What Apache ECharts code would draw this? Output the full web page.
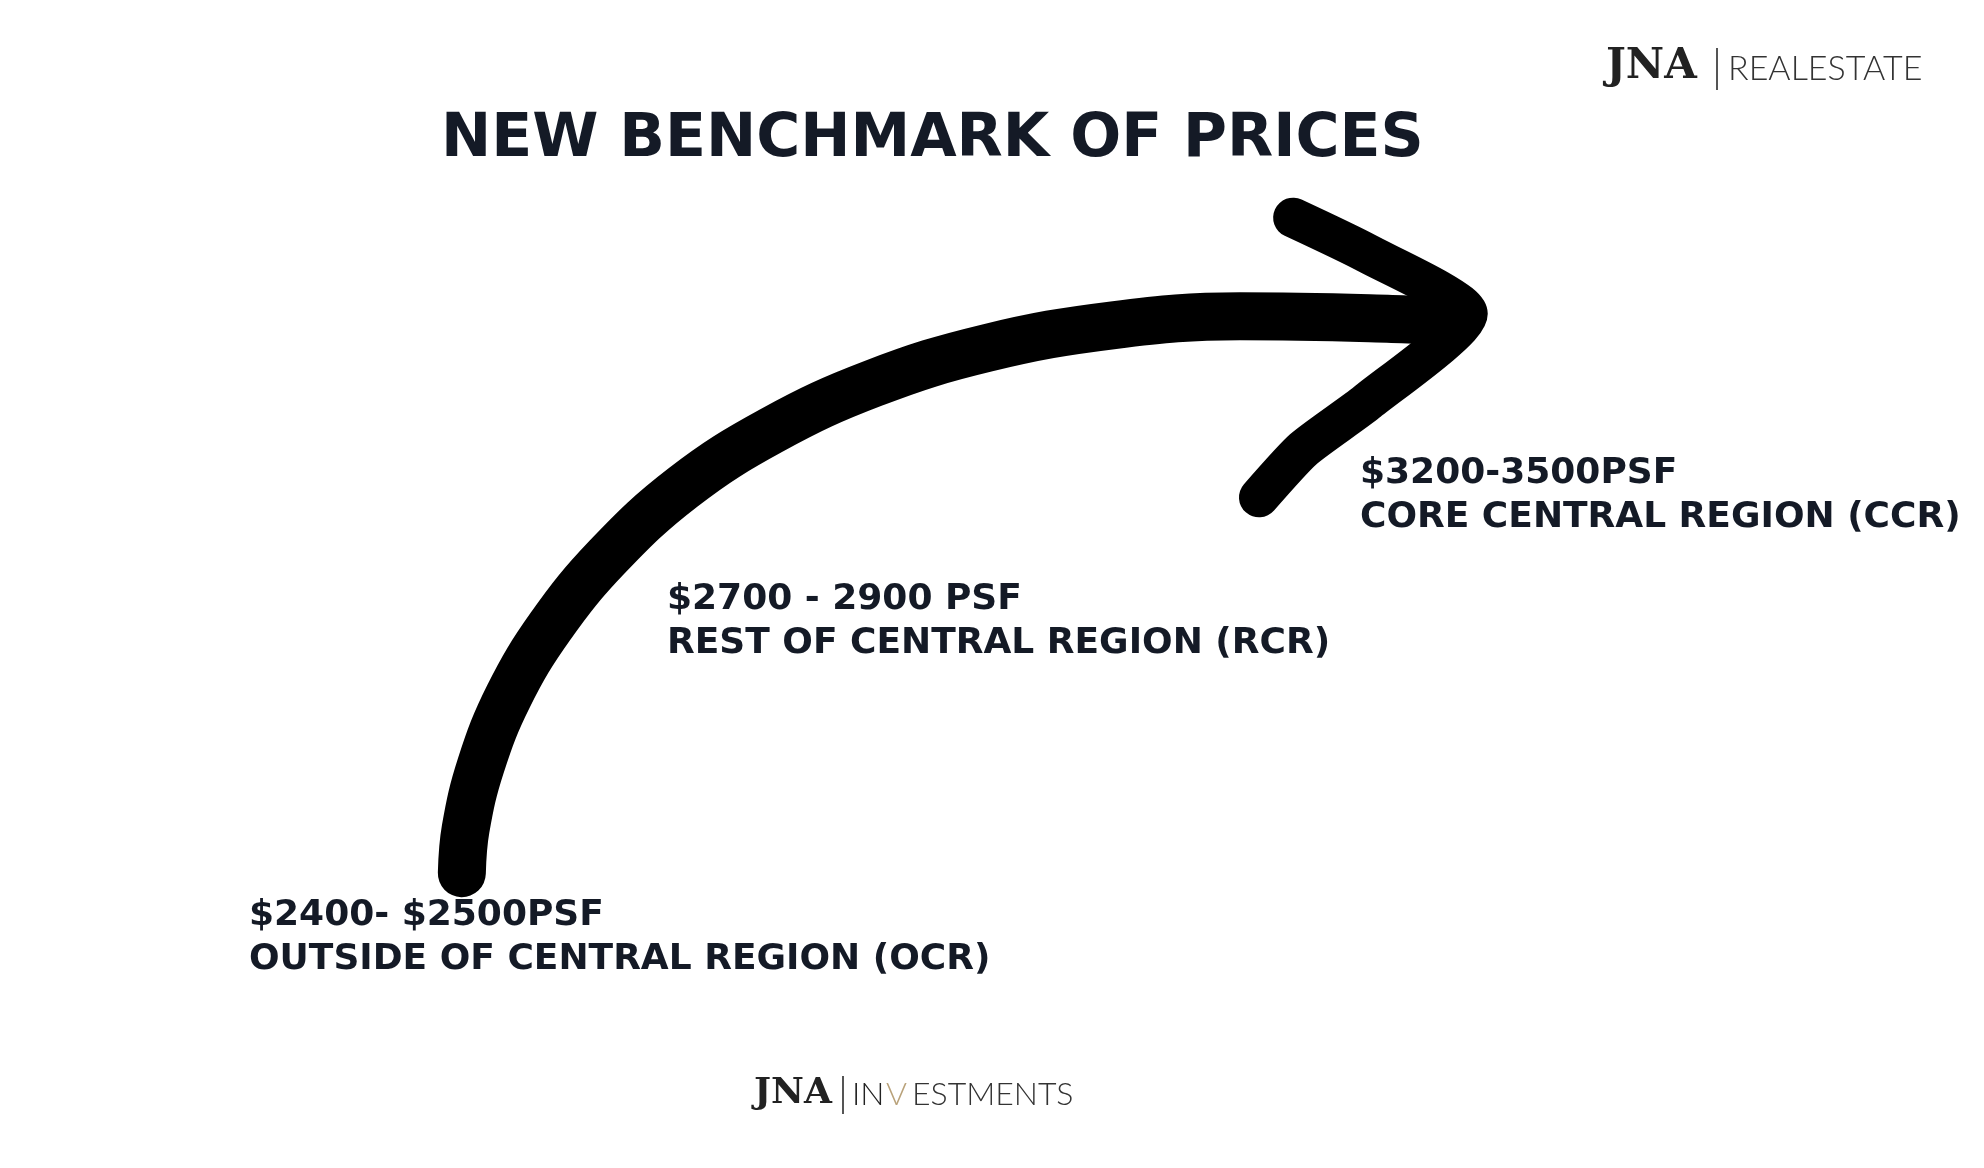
<!DOCTYPE html>
<html><head><meta charset="utf-8">
<script src="https://cdn.jsdelivr.net/npm/echarts@6/dist/echarts.min.js"></script>
<style>html,body{margin:0;background:#fff}#c{width:1984px;height:1168px}</style>
</head><body><div id="c"></div>
<script>
// arrow path in a 1568 x 923 layout space
const shaftPts = [[365,690],[368,655],[380,605],[402,550],[435,495],[480,440],[540,385],[610,340],[690,303],[780,275],[880,257],[980,250],[1100,252],[1140,254]];
const headPts = [[1022,172],[1080,200],[1160,248],[1080,318],[1030,355],[995,393]];
const regions = ['$3200-3500PSF|CORE CENTRAL REGION (CCR)', '$2700 - 2900 PSF|REST OF CENTRAL REGION (RCR)', '$2400- $2500PSF|OUTSIDE OF CENTRAL REGION (OCR)'];
const labelPos = [[1360,452],[667,578],[249,894]];
const title = 'NEW BENCHMARK OF PRICES';
const ink = '#141a26';

const chart = echarts.init(document.getElementById('c'));
const txt = (t, x, y, size) => ({type:'text', left:x, top:y,
  style:{text:t, fill:ink, font:'bold '+size+'px "DejaVu Sans"', lineHeight:44}});
const graphics = [
  {type:'text', left:441, top:110, style:{text:title, fill:ink, font:'bold 60px "DejaVu Sans"'}}
];
regions.forEach((r,i)=>{
  const [a,b] = r.split('|');
  graphics.push(txt(a+'\n'+b, labelPos[i][0], labelPos[i][1], 36));
});
// logos
graphics.push({type:'text', left:1606, top:46, style:{text:'JNA', fill:'#222', font:'bold 42px "DejaVu Serif"'}});
graphics.push({type:'rect', shape:{x:1716,y:48,width:2,height:42}, style:{fill:'#555'}});
graphics.push({type:'text', left:1728, top:52, style:{text:'REALESTATE', fill:'#333', font:'300 34px Lato', textLetterSpacing:3}});
graphics.push({type:'text', left:754, top:1076, style:{text:'JNA', fill:'#222', font:'bold 36px "DejaVu Serif"'}});
graphics.push({type:'rect', shape:{x:842,y:1076,width:2,height:38}, style:{fill:'#555'}});
graphics.push({type:'text', left:852, top:1079, style:{text:'IN', fill:'#222', font:'300 32px Lato', textLetterSpacing:6}});
graphics.push({type:'text', left:886, top:1079, style:{text:'V', fill:'#b9a27a', font:'300 32px Lato'}});
graphics.push({type:'text', left:912, top:1079, style:{text:'ESTMENTS', fill:'#333', font:'300 32px Lato', textLetterSpacing:6}});

chart.setOption({
  animation:false,
  grid:{left:0,right:0,top:0,bottom:0},
  xAxis:{type:'value',min:0,max:1568,show:false},
  yAxis:{type:'value',min:0,max:923,inverse:true,show:false},
  series:[
    {type:'line', data:shaftPts, smooth:0.4, symbol:'none', lineStyle:{color:'#000',width:48,cap:'round',join:'round'}},
    {type:'line', data:headPts, smooth:0.2, symbol:'none', lineStyle:{color:'#000',width:40,cap:'round',join:'miter'}}
  ],
  graphic:graphics
});
</script></body></html>
